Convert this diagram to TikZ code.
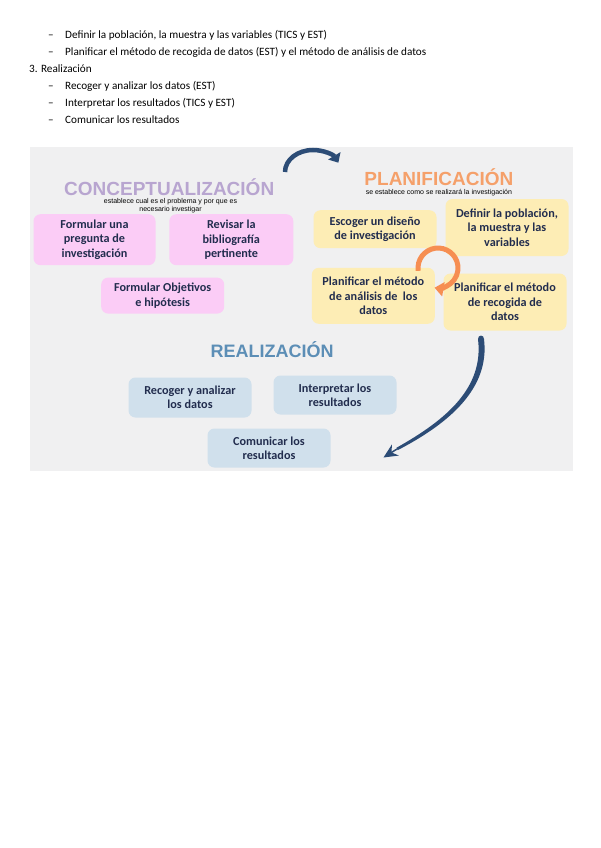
\documentclass[tikz,border=0pt]{standalone}
\usepackage{fontspec}
\setmainfont{Carlito}
\newfontfamily\headfont{Liberation Sans}
\usetikzlibrary{arrows.meta}

\definecolor{panelgray}{RGB}{240,240,241}
\definecolor{pinkbox}{RGB}{251,204,246}
\definecolor{yelbox}{RGB}{253,237,181}
\definecolor{bluebox}{RGB}{208,224,236}
\definecolor{boxtext}{RGB}{34,45,78}
\definecolor{concol}{RGB}{184,165,208}
\definecolor{plancol}{RGB}{245,160,106}
\definecolor{realcol}{RGB}{92,142,182}
\definecolor{navyarrow}{RGB}{44,76,118}
\definecolor{orangearrow}{RGB}{246,142,82}

\begin{document}
\begin{tikzpicture}[x=1pt,y=-1pt,
  card/.style={rounded corners=7pt, align=center, inner sep=0pt, text=boxtext,
    font=\fontsize{12.2}{14.4}\selectfont\bfseries},
  pinkcard/.style={card, fill=pinkbox},
  yelcard/.style={card, fill=yelbox},
  bluecard/.style={card, fill=bluebox},
  bodytext/.style={anchor=base west, inner sep=0pt, font=\fontsize{11.2}{13}\selectfont},
  phasetitle/.style={anchor=base, inner sep=0pt, font=\headfont\bfseries\fontsize{19}{22}\selectfont},
  phasesub/.style={inner sep=0pt, align=center, font=\headfont\fontsize{7}{7.8}\selectfont},
]
\useasboundingbox (0,0) rectangle (600,848);
\fill[white] (0,0) rectangle (600,848);

% text above
\node[bodytext] (d1) at (48,38.8) {–};
\node[bodytext] (l1) at (65,38.8) {Definir la población, la muestra y las variables (TICS y EST)};
\node[bodytext] (d2) at (48,55.5) {–};
\node[bodytext] (l2) at (65,55.5) {Planificar el método de recogida de datos (EST) y el método de análisis de datos};
\node[bodytext] (l3) at (29,72.4) {3. Realización};
\node[bodytext] (d4) at (48,89.8) {–};
\node[bodytext] (l4) at (65,89.8) {Recoger y analizar los datos (EST)};
\node[bodytext] (d5) at (48,106.5) {–};
\node[bodytext] (l5) at (65,106.5) {Interpretar los resultados (TICS y EST)};
\node[bodytext] (d6) at (48,123.1) {–};
\node[bodytext] (l6) at (65,123.1) {Comunicar los resultados};

% panel
\fill[panelgray] (30,147) rectangle (573,471);

% titles
\node[phasetitle, text=concol] (tcon) at (169.2,195) {CONCEPTUALIZACIÓN};
\node[phasesub] (scon) at (170.5,205.5) {establece cual es el problema y por que es\\necesario investigar};
\node[phasetitle, text=plancol] (tplan) at (438.9,185.7) {PLANIFICACIÓN};
\node[phasesub] (splan) at (438.9,192.7) {se establece como se realizará la investigación};
\node[phasetitle, text=realcol, font=\headfont\bfseries\fontsize{18}{21}\selectfont] (treal) at (272.2,357.3) {REALIZACIÓN};

% conceptualization boxes
\node[pinkcard, minimum width=122pt, minimum height=51pt] (f1) at (94.5,239.7) {Formular una\\pregunta de\\investigación};
\node[pinkcard, minimum width=124pt, minimum height=51pt] (f2) at (231.3,239.7) {Revisar la\\bibliografía\\pertinente};
\node[pinkcard, minimum width=123pt, minimum height=36pt] (f3) at (162.7,295.6) {Formular Objetivos\\e hipótesis};

% planning boxes
\node[yelcard, minimum width=123pt, minimum height=38pt] (p1) at (375,229.2) {Escoger un diseño\\de investigación};
\node[yelcard, minimum width=123pt, minimum height=57pt] (p2) at (507,227.5) {Definir la población,\\la muestra y las\\variables};
\node[yelcard, minimum width=123pt, minimum height=56pt] (p3) at (373.3,295.8) {Planificar el método\\de análisis de\ \ los\\datos};
\node[yelcard, minimum width=123pt, minimum height=57pt] (p4) at (505,302) {Planificar el método\\de recogida de\\datos};

% realization boxes
\node[bluecard, minimum width=123pt, minimum height=40pt] (r1) at (190,397.5) {Recoger y analizar\\los datos};
\node[bluecard, minimum width=123pt, minimum height=39pt] (r2) at (335,395) {Interpretar los\\resultados};
\node[bluecard, minimum width=123pt, minimum height=39pt] (r3) at (269,448) {Comunicar los\\resultados};

% top curved arrow
\coordinate (ta) at (285,172);
\draw[navyarrow, line width=4.5pt, -{Triangle[length=8pt,width=14pt]}] (ta) arc[start angle=180, end angle=335, x radius=28, y radius=22];

% orange circular arrow
\coordinate (oa) at (418.2,270.8);
\draw[orangearrow, line width=5pt, -{Triangle[length=9pt,width=14pt]}] (oa) arc[start angle=172, end angle=460, radius=20];

% right tapered arrow
\coordinate (ra) at (481,340);
\coordinate (rb) at (397,449);
\coordinate (rt) at (383.5,457.5);
\fill[navyarrow] (484,339) .. controls (490,388) and (450,423) .. (397.6,450.2)
  -- (396.4,447.8) .. controls (446,420) and (484,388) .. (478,339)
  .. controls (478,334.5) and (484,334.5) .. (484,339) -- cycle;
\draw[navyarrow, line width=1.5pt, -{Stealth[length=14pt,width=13pt]}] (rb) -- (rt);
\end{tikzpicture}
\end{document}
